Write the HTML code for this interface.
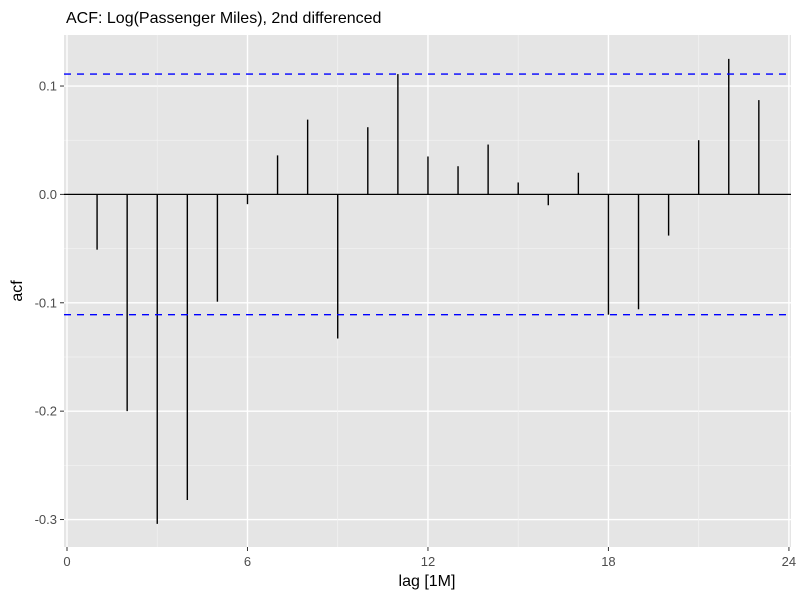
<!DOCTYPE html>
<html><head><meta charset="utf-8"><style>
body{margin:0;background:#fff;}
svg{font-family:"Liberation Sans",sans-serif;}
</style></head><body>
<svg id="c" width="800" height="600">
<text x="66" y="23" font-size="16" fill="#000">ACF: Log(Passenger Miles), 2nd differenced</text>
<rect x="64" y="35" width="727" height="512" fill="#e5e5e5"/>
<g id="grid"></g><g id="marks"></g><g id="axes"></g>
<text x="427" y="586" font-size="16" text-anchor="middle">lag [1M]</text>
<text transform="translate(22,291) rotate(-90)" font-size="16" text-anchor="middle">acf</text>
</svg>
<script>
const lags=[1,2,3,4,5,6,7,8,9,10,11,12,13,14,15,16,17,18,19,20,21,22,23];
const acf=[-0.051,-0.2,-0.304,-0.282,-0.099,-0.009,0.036,0.069,-0.133,0.062,0.111,0.035,0.026,0.046,0.011,-0.01,0.02,-0.111,-0.106,-0.038,0.05,0.125,0.087];
const ci=[0.111,-0.111];
const xTicks=[0,6,12,18,24];
const yTicks=[0.1,0.0,-0.1,-0.2,-0.3];
const yTickLabels=["0.1","0.0","-0.1","-0.2","-0.3"];
const NS='http://www.w3.org/2000/svg';
const X=v=>67+v*30.08;
const Y=v=>194.4-v*1083.75;
function mk(p,t,a){const e=document.createElementNS(NS,t);for(const k in a)e.setAttribute(k,a[k]);p.appendChild(e);return e;}
const g=document.getElementById('grid'),m=document.getElementById('marks'),ax=document.getElementById('axes');
for(let i=0;i<yTicks.length;i++){
 if(i<yTicks.length-1){const mid=(yTicks[i]+yTicks[i+1])/2;
  const ml=mk(g,'line',{x1:64,x2:791,y1:Y(mid),y2:Y(mid),stroke:'#f2f2f2','stroke-width':0.7});
  }
 const l=mk(g,'line',{x1:64,x2:791,y1:Y(yTicks[i]),y2:Y(yTicks[i]),stroke:'#fff','stroke-width':1.4});
 
 const t=mk(ax,'line',{x1:60,x2:64,y1:Y(yTicks[i]),y2:Y(yTicks[i]),stroke:'#333','stroke-width':1});
 
 const tx=mk(ax,'text',{x:57,y:Y(yTicks[i])+4.5,'font-size':13,'text-anchor':'end',fill:'#4d4d4d'});tx.textContent=yTickLabels[i];
 
}
for(let i=0;i<xTicks.length;i++){
 if(i<xTicks.length-1){const mid=(xTicks[i]+xTicks[i+1])/2;
  const ml=mk(g,'line',{x1:X(mid),x2:X(mid),y1:35,y2:547,stroke:'#f2f2f2','stroke-width':0.7});
  }
 const l=mk(g,'line',{x1:X(xTicks[i]),x2:X(xTicks[i]),y1:35,y2:547,stroke:'#fff','stroke-width':1.4});
 
 const t=mk(ax,'line',{x1:X(xTicks[i]),x2:X(xTicks[i]),y1:547,y2:551,stroke:'#333','stroke-width':1});
 
 const tx=mk(ax,'text',{x:X(xTicks[i]),y:566,'font-size':13,'text-anchor':'middle',fill:'#4d4d4d'});tx.textContent=xTicks[i];
 
}
const z=mk(m,'line',{x1:64,x2:791,y1:Y(0),y2:Y(0),stroke:'#000','stroke-width':1.3});

for(let i=0;i<lags.length;i++){
 const b=mk(m,'line',{x1:X(lags[i]),x2:X(lags[i]),y1:Y(0),y2:Y(acf[i]),stroke:'#000','stroke-width':1.4});
 
}
for(const c of ci){
 const l=mk(m,'line',{x1:64,x2:791,y1:Y(c),y2:Y(c),stroke:'#0000ff','stroke-width':1.4,'stroke-dasharray':'7,6'});
 
}
</script>
</body></html>
